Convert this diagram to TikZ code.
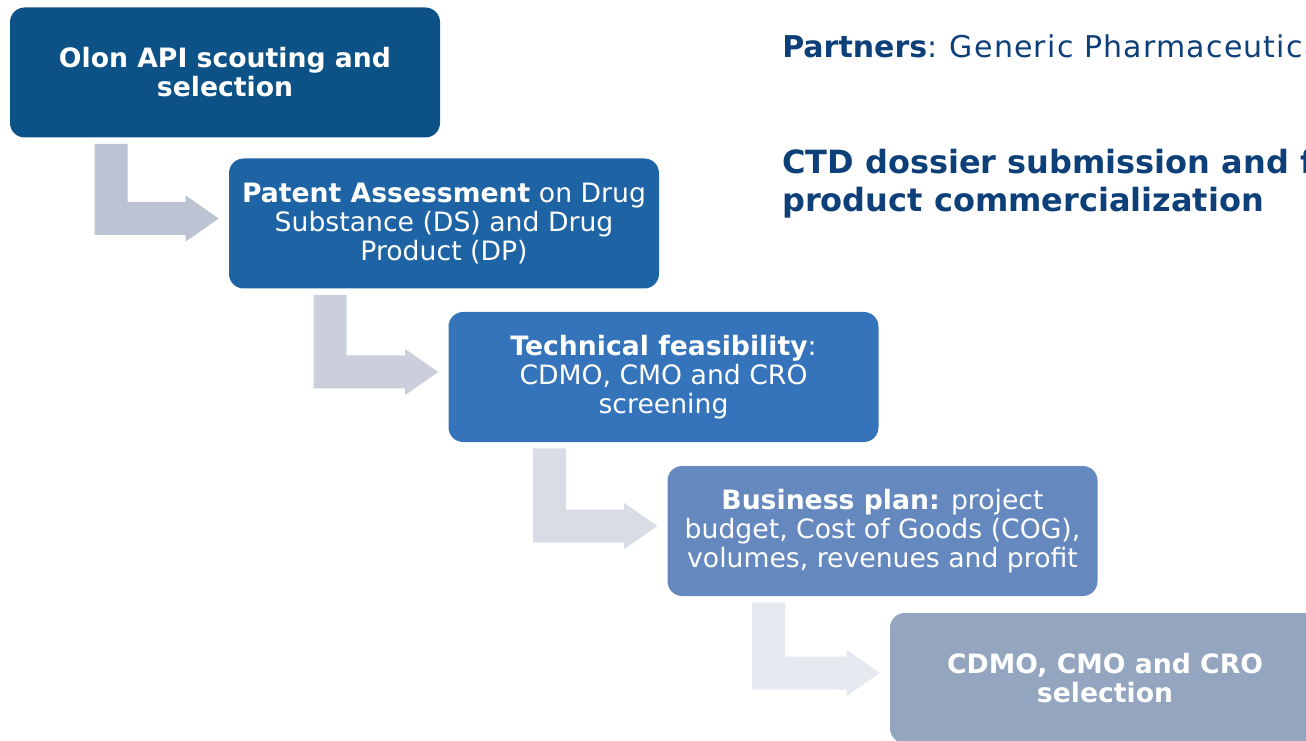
\documentclass[tikz,border=0pt]{standalone}
\usepackage{fontspec}
\setmainfont{DejaVu Sans}
\usetikzlibrary{calc}

\definecolor{stepone}{RGB}{12,82,135}
\definecolor{steptwo}{RGB}{30,100,165}
\definecolor{stepthree}{RGB}{53,116,186}
\definecolor{stepfour}{RGB}{101,137,190}
\definecolor{stepfive}{RGB}{148,165,192}
\definecolor{arrowone}{RGB}{188,195,211}
\definecolor{arrowtwo}{RGB}{202,207,219}
\definecolor{arrowthree}{RGB}{216,220,229}
\definecolor{arrowfour}{RGB}{230,233,239}
\definecolor{headblue}{RGB}{13,63,120}

\tikzset{
	stepbox/.style={rounded corners=11pt, minimum width=322.5pt, minimum height=97.5pt, inner sep=0pt, align=center, text=white, font=\fontsize{20}{21.75}\selectfont},
}
% bent block arrow from the box #1 down and into the box #2
\newcommand\bentarrow[3]{%
	\coordinate (tip) at ($(#2.west)+(-10,-5)$);
	\coordinate (top) at ($(#1.south west)+(85,6)$);
	\fill[#3] (top) -- ++(33,0) |- ($(tip)+(-33,-16.5)$) -- ($(tip)+(-33,-23)$) -- (tip) -- ($(tip)+(-33,23)$) -- ($(tip)+(-33,16.5)$) -| (top) -- cycle;}

\begin{document}
\begin{tikzpicture}[x=0.75pt, y=-0.75pt]
			%%%%% START %%%%%
			\useasboundingbox (0,0) rectangle (1306,741);
			
			\node[stepbox, fill=stepone] (scouting) at (225,72.5) {\textbf{Olon API scouting and}\\\textbf{selection}};
			\node[stepbox, fill=steptwo] (patent) at (444,223.5) {\textbf{Patent Assessment} on Drug\\Substance (DS) and Drug\\Product (DP)};
			\node[stepbox, fill=stepthree] (feasibility) at (663.5,377) {\textbf{Technical feasibility}:\\CDMO, CMO and CRO\\screening};
			\node[stepbox, fill=stepfour] (business) at (882.5,531) {\textbf{Business plan:} project\\budget, Cost of Goods (COG),\\volumes, revenues and profit};
			\node[stepbox, fill=stepfive] (selection) at (1105,678) {\textbf{CDMO, CMO and CRO}\\\textbf{selection}};
			
			\bentarrow{scouting}{patent}{arrowone}
			\bentarrow{patent}{feasibility}{arrowtwo}
			\bentarrow{feasibility}{business}{arrowthree}
			\bentarrow{business}{selection}{arrowfour}
			
			\node[anchor=base west, inner sep=0pt, text=headblue, font=\fontsize{22.5}{27}\selectfont] (partners) at (782,58) {\textbf{Partners}: {\addfontfeature{LetterSpace=4}Generic Pharmaceuticals}};
			\node[anchor=north west, inner sep=0pt, align=left, text=headblue, font=\fontsize{24}{28.5}\selectfont\bfseries] (ctd) at (782,149) {CTD dossier submission and finished\\product commercialization};
			
			%%%%% END %%%%%
\end{tikzpicture}
\end{document}
